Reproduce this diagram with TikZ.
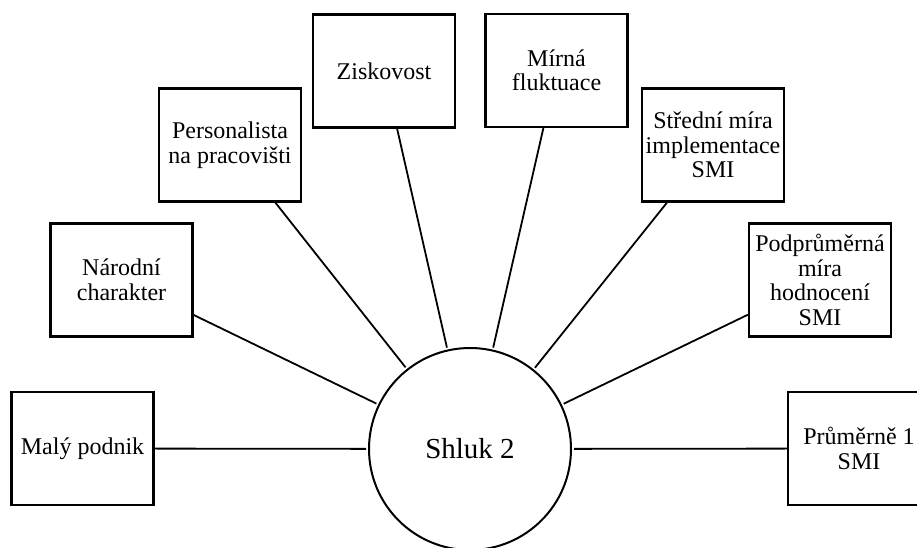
\documentclass[tikz,border=0pt]{standalone}
\usepackage{fontspec}
\setmainfont{Liberation Serif}
\begin{document}
\begin{tikzpicture}[x=1pt,y=-1pt,
  box/.style={draw=black,line width=2.2pt,rectangle,minimum width=142pt,minimum height=113pt,
    align=center,inner sep=2pt,font=\fontsize{24}{24.5}\selectfont},
  hub/.style={draw=black,line width=2pt,circle,minimum size=202pt,inner sep=0pt,
    font=\fontsize{29}{30}\selectfont},
  link/.style={draw=black,line width=1.8pt,shorten >=2pt}]
\useasboundingbox (0,0) rectangle (917,548);
\node[hub] (c) at (470,449) {Shluk 2};
\node[box] (a) at (82.5,448.5) {Malý podnik};
\node[box] (b) at (121.5,280) {Národní\\charakter};
\node[box] (d) at (230,145) {Personalista\\na pracovišti};
\node[box] (e) at (384,71) {Ziskovost};
\node[box] (f) at (556.5,70.5) {Mírná\\fluktuace};
\node[box] (g) at (713,145) {Střední míra\\implementace\\SMI};
\node[box] (h) at (820,280) {Podprůměrná\\míra\\hodnocení\\SMI};
\node[box] (i) at (859,448.5) {Průměrně 1\\SMI};
\foreach \n in {a,b,d,e,f,g,h,i} \draw[link] (\n) -- (c);
\end{tikzpicture}
\end{document}
